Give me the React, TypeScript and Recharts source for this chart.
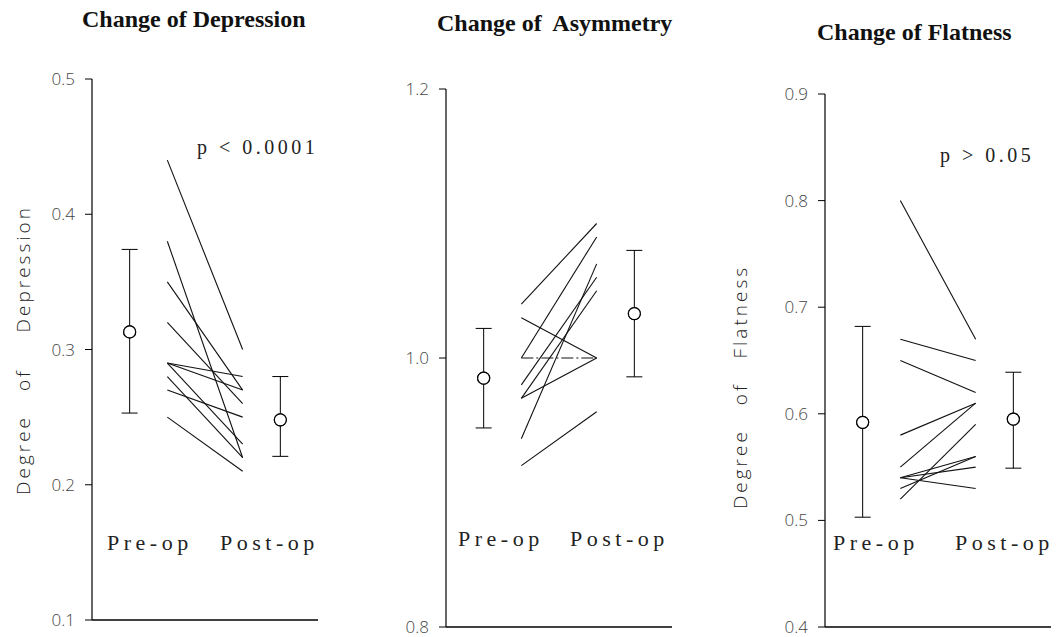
import React from "react";
import { ComposedChart, Scatter, XAxis, YAxis, ErrorBar, ReferenceLine } from "recharts";

const phases = ["Pre-op", "Post-op"];

const depressionPre = [0.44, 0.38, 0.35, 0.32, 0.29, 0.29, 0.29, 0.28, 0.27, 0.25];
const depressionPost = [0.3, 0.22, 0.27, 0.26, 0.28, 0.27, 0.23, 0.22, 0.25, 0.21];
const depressionMean = [0.313, 0.248];
const depressionLow = [0.253, 0.221];
const depressionHigh = [0.374, 0.28];
const depressionTicks = [0.1, 0.2, 0.3, 0.4, 0.5];

const asymmetryPre = [1.04, 1.03, 1.0, 1.0, 0.98, 0.97, 0.97, 0.94, 0.92];
const asymmetryPost = [1.1, 1.0, 1.09, 1.0, 1.06, 1.0, 1.05, 1.07, 0.96];
const asymmetryMean = [0.985, 1.033];
const asymmetryLow = [0.948, 0.986];
const asymmetryHigh = [1.022, 1.08];
const asymmetryTicks = [0.8, 1.0, 1.2];

const flatnessPre = [0.8, 0.67, 0.65, 0.58, 0.55, 0.54, 0.54, 0.54, 0.53, 0.52];
const flatnessPost = [0.67, 0.65, 0.62, 0.61, 0.61, 0.56, 0.55, 0.53, 0.56, 0.59];
const flatnessMean = [0.592, 0.595];
const flatnessLow = [0.503, 0.549];
const flatnessHigh = [0.682, 0.639];
const flatnessTicks = [0.4, 0.5, 0.6, 0.7, 0.8, 0.9];

const titles = ["Change of Depression", "Change of  Asymmetry", "Change of Flatness"];
const pValues = ["p < 0.0001", "p > 0.05"];
const yLabels = ["Degree  of   Depression", "Degree  of  Flatness"];

const PAGE_H = 637;
const PLOT_W = 226;
const MEAN_X = [1, 5];
const PAIR_X = [2, 4];

const tickFont = { fontSize: 17, fill: "#444", fontFamily: "'Open Sans', sans-serif", fontWeight: 300 };
const textFont: React.CSSProperties = {
  fontFamily: "'Liberation Serif', serif",
  fontSize: 20,
  color: "#222",
  letterSpacing: 3.5,
};
const phaseFont: React.CSSProperties = { fontSize: 22, letterSpacing: 4.5 };

const MeanDot = (props: any) => (
  <circle cx={props.cx} cy={props.cy} r={6} fill="#fff" stroke="#000" strokeWidth={1.2} />
);
const NoDot = () => <g />;

function Panel(props: {
  left: number;
  axisWidth: number;
  plotTop: number;
  plotBottom: number;
  ticks: number[];
  pre: number[];
  post: number[];
  mean: number[];
  low: number[];
  high: number[];
}) {
  const { left, axisWidth, plotTop, plotBottom, ticks, pre, post, mean, low, high } = props;
  const min = ticks[0];
  const max = ticks[ticks.length - 1];
  const means = mean.map((m, i) => ({ x: MEAN_X[i], y: m, err: [m - low[i], high[i] - m] }));
  return (
    <div style={{ position: "absolute", left, top: 0 }}>
      <ComposedChart
        width={axisWidth + PLOT_W + 4}
        height={PAGE_H + 10}
        margin={{ top: plotTop, right: 4, bottom: PAGE_H + 10 - plotBottom, left: 0 }}
      >
        <XAxis type="number" dataKey="x" domain={[0, 6]} hide allowDataOverflow />
        <YAxis
          type="number"
          dataKey="y"
          domain={[min, max]}
          ticks={ticks}
          width={axisWidth}
          tickSize={7}
          tickMargin={10}
          tick={tickFont}
          tickFormatter={(v: number) => v.toFixed(1)}
          axisLine={{ stroke: "#000", strokeWidth: 1.2 }}
          tickLine={{ stroke: "#000", strokeWidth: 1 }}
          allowDataOverflow
        />
        <ReferenceLine y={min} stroke="#000" strokeWidth={1.6} ifOverflow="visible" />
        {pre.map((p, i) => (
          <Scatter
            key={i}
            data={[
              { x: PAIR_X[0], y: p },
              { x: PAIR_X[1], y: post[i] },
            ]}
            line={{
              stroke: "#111",
              strokeWidth: 1.1,
              strokeDasharray: p === post[i] ? "12 3 2 3" : undefined,
            }}
            shape={NoDot}
            isAnimationActive={false}
          />
        ))}
        <Scatter data={means} shape={MeanDot} isAnimationActive={false}>
          <ErrorBar dataKey="err" direction="y" width={8} stroke="#000" strokeWidth={1} />
        </Scatter>
        <Scatter data={means} shape={MeanDot} isAnimationActive={false} />
      </ComposedChart>
    </div>
  );
}

const Txt = (props: { x: number; y: number; children: React.ReactNode; style?: React.CSSProperties }) => (
  <div
    style={{
      position: "absolute",
      left: props.x,
      top: props.y,
      transform: "translateY(-50%)",
      whiteSpace: "pre",
      lineHeight: 1,
      ...textFont,
      ...props.style,
    }}
  >
    {props.children}
  </div>
);

const SideLabel = (props: { x: number; y: number; children: React.ReactNode }) => (
  <div
    style={{
      position: "absolute",
      left: props.x,
      top: props.y,
      transform: "translate(-50%, -50%) rotate(-90deg)",
      whiteSpace: "pre",
      lineHeight: 1,
      fontFamily: "'Open Sans', sans-serif",
      fontWeight: 300,
      fontSize: 19,
      letterSpacing: 3,
      wordSpacing: 4,
      color: "#222",
    }}
  >
    {props.children}
  </div>
);

const titleStyle: React.CSSProperties = {
  fontFamily: "'Liberation Serif', serif",
  fontWeight: "bold",
  fontSize: 24,
  letterSpacing: 0,
  color: "#111",
};

export default function App() {
  return (
    <div
      style={{
        position: "absolute",
        left: 0,
        top: 0,
        width: 1057,
        height: PAGE_H,
        background: "#fff",
        overflow: "hidden",
      }}
    >
      <Panel
        left={0}
        axisWidth={92}
        plotTop={79}
        plotBottom={620}
        ticks={depressionTicks}
        pre={depressionPre}
        post={depressionPost}
        mean={depressionMean}
        low={depressionLow}
        high={depressionHigh}
      />
      <Panel
        left={340}
        axisWidth={106}
        plotTop={89}
        plotBottom={627}
        ticks={asymmetryTicks}
        pre={asymmetryPre}
        post={asymmetryPost}
        mean={asymmetryMean}
        low={asymmetryLow}
        high={asymmetryHigh}
      />
      <Panel
        left={700}
        axisWidth={125}
        plotTop={94}
        plotBottom={627}
        ticks={flatnessTicks}
        pre={flatnessPre}
        post={flatnessPost}
        mean={flatnessMean}
        low={flatnessLow}
        high={flatnessHigh}
      />

      <Txt x={82} y={19} style={titleStyle}>{titles[0]}</Txt>
      <Txt x={437} y={23} style={titleStyle}>{titles[1]}</Txt>
      <Txt x={817} y={32} style={titleStyle}>{titles[2]}</Txt>

      <Txt x={197} y={147}>{pValues[0]}</Txt>
      <Txt x={940} y={155}>{pValues[1]}</Txt>

      <Txt x={107} y={543} style={phaseFont}>{phases[0]}</Txt>
      <Txt x={220} y={543} style={phaseFont}>{phases[1]}</Txt>
      <Txt x={458} y={539} style={phaseFont}>{phases[0]}</Txt>
      <Txt x={570} y={539} style={phaseFont}>{phases[1]}</Txt>
      <Txt x={833} y={543} style={phaseFont}>{phases[0]}</Txt>
      <Txt x={955} y={543} style={phaseFont}>{phases[1]}</Txt>

      <SideLabel x={23} y={350}>{yLabels[0]}</SideLabel>
      <SideLabel x={740} y={387}>{yLabels[1]}</SideLabel>
    </div>
  );
}
